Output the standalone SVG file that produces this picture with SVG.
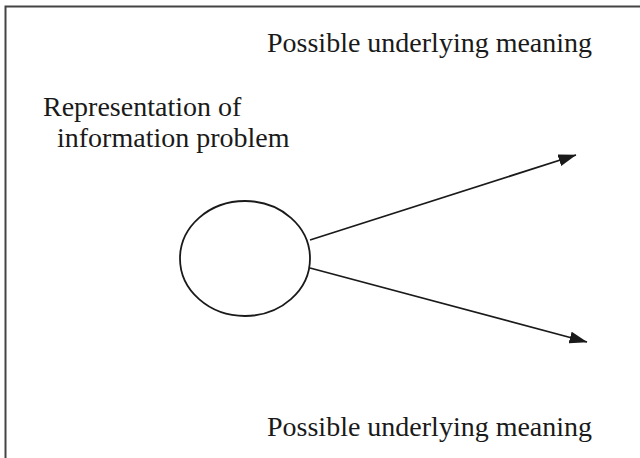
<svg xmlns="http://www.w3.org/2000/svg" width="640" height="458" viewBox="0 0 640 458">
<defs>
<style>
.lbl{font-family:"Liberation Serif","Times New Roman",serif;font-size:28px;fill:#1a1a1a}
.edge{stroke:#1a1a1a;stroke-width:1.8;fill:none}
</style>
<marker id="ah" viewBox="0 0 18 12" refX="17.5" refY="6" markerWidth="18" markerHeight="12" markerUnits="userSpaceOnUse" orient="auto">
<path d="M0,0 L18,6 L0,12 z" fill="#1a1a1a"/>
</marker>
</defs>
<rect width="640" height="458" fill="#fff"/>
<path d="M5.5,465 V6.5 H645" fill="none" stroke="#444" stroke-width="2"/>
<g id="meaning-top"><text class="lbl" x="267" y="52">Possible underlying meaning</text></g>
<g id="representation">
<text class="lbl" x="43" y="116">Representation of</text>
<text class="lbl" x="57" y="147">information problem</text>
</g>
<g id="problem-node"><ellipse cx="245" cy="258.5" rx="65" ry="57.5" fill="none" stroke="#1a1a1a" stroke-width="1.8"/></g>
<g id="meaning-bottom"><text class="lbl" x="267" y="436">Possible underlying meaning</text></g>
<g id="connectors">
<line class="edge" x1="310" y1="240" x2="576" y2="155" marker-end="url(#ah)"/>
<line class="edge" x1="310" y1="268" x2="587" y2="342" marker-end="url(#ah)"/>
</g>
</svg>
